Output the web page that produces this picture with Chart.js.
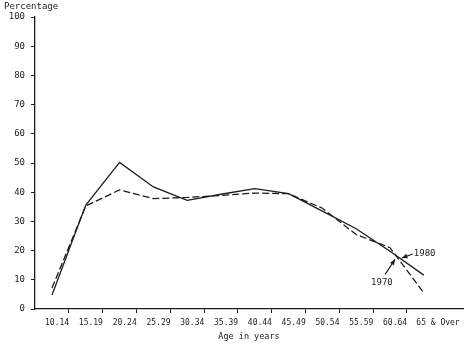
<!DOCTYPE html>
<html>
<head>
<meta charset="utf-8">
<script src="https://cdn.jsdelivr.net/npm/chart.js@4"></script>
<style>
  body { margin: 0; background: #fff; }
  #wrap { width: 475px; height: 345px; }
</style>
</head>
<body>
<div id="wrap"><canvas id="ageChart" width="475" height="345"></canvas></div>
<script>
const ageGroups = ["10.14", "15.19", "20.24", "25.29", "30.34", "35.39", "40.44", "45.49", "50.54", "55.59", "60.64", "65 & Over"];
const pct1980 = [4.8, 35.6, 50.2, 41.8, 37.2, 39.3, 41.2, 39.5, 33.5, 27.5, 19.8, 11.6];
const pct1970 = [7.2, 35.3, 40.8, 37.8, 38.2, 38.9, 39.7, 39.5, 34.5, 25.5, 21.0, 5.5];
const yTicks = [0, 10, 20, 30, 40, 50, 60, 70, 80, 90, 100];

const ink = "#1c1c1c";
const mono = "'DejaVu Sans Mono', monospace";

// tick marks sit between the groups, labels near the points
const xTickList = [];
ageGroups.forEach((g, i) => {
  const shift = i === ageGroups.length - 1 ? 0.42 : 0.15;
  xTickList.push({ value: i + shift, label: g });
});
for (let i = 0; i < ageGroups.length - 1; i++) xTickList.push({ value: i + 0.5, mark: true });
xTickList.sort((a, b) => a.value - b.value);

function toPoints(arr) {
  return arr.map((v, i) => ({ x: i, y: v }));
}

function arrow(ctx, x1, y1, x2, y2) {
  const a = Math.atan2(y2 - y1, x2 - x1);
  ctx.beginPath();
  ctx.moveTo(x1, y1);
  ctx.lineTo(x2, y2);
  ctx.stroke();
  ctx.beginPath();
  ctx.moveTo(x2, y2);
  ctx.lineTo(x2 - 6 * Math.cos(a - 0.4), y2 - 6 * Math.sin(a - 0.4));
  ctx.lineTo(x2 - 6 * Math.cos(a + 0.4), y2 - 6 * Math.sin(a + 0.4));
  ctx.closePath();
  ctx.fill();
}

const notes = {
  id: "notes",
  afterDraw(chart) {
    const { ctx, scales } = chart;
    const x = scales.x, y = scales.y;
    ctx.save();
    ctx.fillStyle = ink;
    ctx.strokeStyle = ink;
    ctx.lineWidth = 1.1;
    ctx.font = "9px " + mono;
    ctx.textBaseline = "middle";
    ctx.textAlign = "left";
    ctx.fillText("Percentage", 4, 7);

    // 1980 label
    const tip80x = x.getPixelForValue(10.35), tip80y = y.getPixelForValue(17.5);
    arrow(ctx, tip80x + 11, tip80y - 4, tip80x, tip80y);
    ctx.fillText("1980", tip80x + 12, tip80y - 4);

    // 1970 label
    const tip70x = x.getPixelForValue(10.15), tip70y = y.getPixelForValue(17);
    arrow(ctx, tip70x - 10, tip70y + 15, tip70x, tip70y);
    ctx.fillText("1970", tip70x - 24, tip70y + 23);
    ctx.restore();
  }
};

new Chart(document.getElementById("ageChart"), {
  type: "line",
  data: {
    datasets: [
      {
        label: "1980",
        data: toPoints(pct1980),
        borderColor: ink,
        borderWidth: 1.3,
        pointRadius: 0,
        tension: 0
      },
      {
        label: "1970",
        data: toPoints(pct1970),
        borderColor: ink,
        borderWidth: 1.3,
        borderDash: [7, 3],
        pointRadius: 0,
        tension: 0
      }
    ]
  },
  options: {
    responsive: false,
    animation: false,
    layout: { padding: { top: 17, right: 12, left: 0, bottom: 0 } },
    plugins: {
      legend: { display: false },
      tooltip: { enabled: false }
    },
    scales: {
      x: {
        type: "linear",
        min: -0.503,
        max: 12.16,
        afterBuildTicks(scale) {
          scale.ticks = xTickList.map(t => ({ value: t.value }));
        },
        afterFit(scale) { scale.height = 36; },
        ticks: {
          autoSkip: false,
          maxRotation: 0,
          padding: 5,
          color: ink,
          font: { family: mono, size: 8 },
          callback: (value, index) => xTickList[index].label || ""
        },
        grid: {
          drawOnChartArea: false,
          tickLength: 4,
          color: ctx => (ctx.tick && xTickList[ctx.index] && xTickList[ctx.index].mark) ? ink : "rgba(0,0,0,0)"
        },
        border: { color: ink, width: 1.3 },
        title: {
          display: true,
          text: "Age in years",
          color: ink,
          font: { family: mono, size: 8.5 },
          padding: { top: 2, bottom: 3 }
        }
      },
      y: {
        min: 0,
        max: 100,
        afterBuildTicks(scale) {
          scale.ticks = yTicks.map(v => ({ value: v }));
        },
        afterFit(scale) { scale.width = 35; },
        ticks: {
          padding: 6,
          color: ink,
          font: { family: mono, size: 9 }
        },
        grid: {
          drawOnChartArea: false,
          tickLength: 4,
          color: ink
        },
        border: { color: ink, width: 1.3 }
      }
    }
  },
  plugins: [notes]
});
</script>
</body>
</html>
